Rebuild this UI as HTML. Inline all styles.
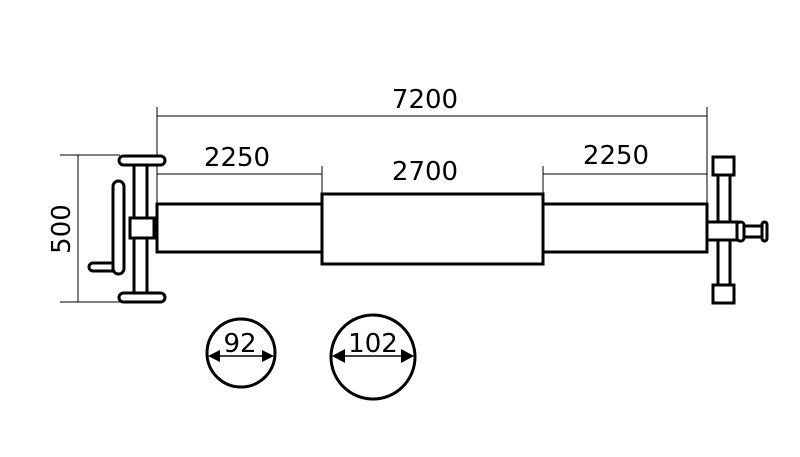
<html><body style="margin:0;background:#fff">
<svg width="800" height="457" viewBox="0 0 800 457" xmlns="http://www.w3.org/2000/svg" font-family="'DejaVu Sans','Liberation Sans',sans-serif">
<g stroke="#000" fill="none" stroke-width="1">
<line x1="157" y1="116" x2="707" y2="116"/>
<line x1="157" y1="107" x2="157" y2="204"/>
<line x1="707" y1="107" x2="707" y2="204"/>
<line x1="157" y1="174" x2="322" y2="174"/>
<line x1="543" y1="174" x2="707" y2="174"/>
<line x1="322" y1="166" x2="322" y2="194"/>
<line x1="543" y1="166" x2="543" y2="194"/>
<line x1="78" y1="155" x2="78" y2="302"/>
<line x1="60" y1="155" x2="120" y2="155"/>
<line x1="60" y1="302" x2="120" y2="302"/>
</g>
<g stroke="#000" fill="#fff" stroke-width="3">
<rect x="157" y="204" width="165" height="48"/>
<rect x="543" y="204" width="164" height="48"/>
<rect x="322" y="194" width="221" height="70"/>
<rect x="134" y="162" width="13" height="133"/>
<rect x="119" y="156" width="46" height="9" rx="4.5"/>
<rect x="119" y="293" width="46" height="9" rx="4.5"/>
<rect x="89" y="263" width="30" height="8" rx="4"/>
<rect x="113" y="181" width="11" height="93" rx="5.5"/>
<rect x="130" y="218" width="24" height="20"/>
<rect x="718" y="172" width="12" height="116"/>
<rect x="713" y="157" width="21" height="18"/>
<rect x="713" y="285" width="21" height="18"/>
<rect x="707" y="222" width="30" height="18"/>
<rect x="737" y="222" width="7" height="19" rx="3"/>
<rect x="744" y="226" width="18" height="11"/>
<rect x="762" y="222" width="5" height="19" rx="2.5"/>
<circle cx="241" cy="353" r="34"/>
<circle cx="373" cy="357" r="42"/>
</g>
<g stroke="#000" stroke-width="1.5">
<line x1="214" y1="356" x2="268" y2="356"/>
<line x1="340" y1="356" x2="406" y2="356"/>
</g>
<g fill="#000">
<polygon points="208,356 220,350 220,362"/><polygon points="274,356 262,350 262,362"/>
<polygon points="332,356 345,349 345,363"/><polygon points="414,356 401,349 401,363"/>
</g>
<g font-size="26" text-anchor="middle" fill="#000">
<text x="425" y="108">7200</text>
<text x="237" y="166">2250</text>
<text x="425" y="180">2700</text>
<text x="616" y="164">2250</text>
<text x="240" y="352">92</text>
<text x="373" y="352">102</text>
<text transform="translate(70,229) rotate(-90)">500</text>
</g>
</svg>
</body></html>
